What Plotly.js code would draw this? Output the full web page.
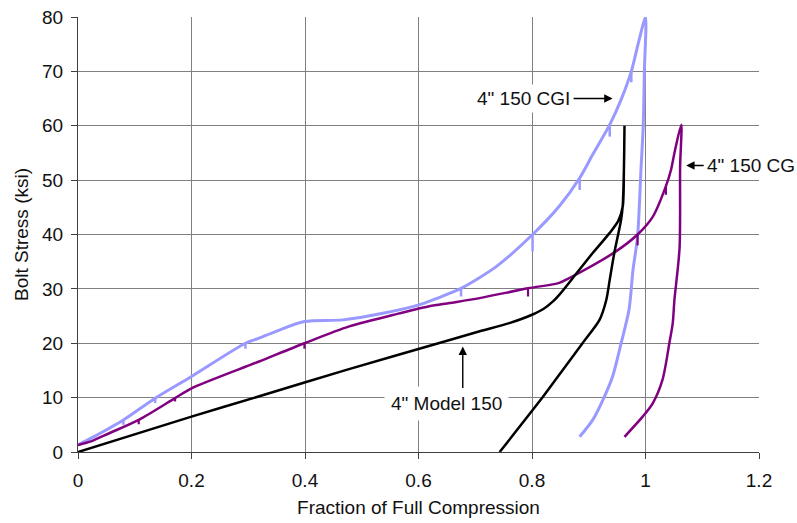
<!DOCTYPE html>
<html>
<head>
<meta charset="utf-8">
<script src="https://cdn.plot.ly/plotly-3.0.1.min.js"></script>
<style>html,body{margin:0;padding:0;background:#fff;}#chart{width:797px;height:523px;}</style>
</head>
<body>
<div id="chart"></div>
<script>
// 4" Model 150 (loading then unloading)
const model150X = [0, 0.2, 0.318, 0.473, 0.655, 0.708, 0.76, 0.799, 0.82, 0.837, 0.848, 0.872, 0.907, 0.937, 0.952, 0.960, 0.962, 0.963,
                   0.962, 0.960, 0.957, 0.945, 0.937, 0.931, 0.919, 0.889, 0.848, 0.819, 0.743];
const model150Y = [0, 6.5, 10.2, 15.1, 20.6, 22.2, 23.7, 25.2, 26.3, 27.7, 28.9, 32, 36.6, 40.3, 42.5, 45.2, 52, 60,
                   52, 45.5, 42.7, 36.6, 31.7, 28, 24.3, 20, 14.2, 10.1, 0];

// 4" 150 CGI (loading then unloading)
const cgiX = [0, 0.024, 0.080, 0.136, 0.2, 0.295, 0.318, 0.349, 0.399, 0.467, 0.537, 0.602, 0.655,
              0.675, 0.737, 0.801, 0.848, 0.884, 0.907, 0.937, 0.957, 0.975, 0.989, 1.0,
              0.998, 0.996, 0.992, 0.986, 0.978, 0.971, 0.957, 0.942, 0.925, 0.907, 0.884];
const cgiY = [1.3, 2.6, 5.9, 9.9, 13.9, 20, 20.9, 22.2, 24, 24.3, 25.5, 27.1, 29.2,
              30.1, 34.1, 40, 45.2, 50.4, 54.7, 60.2, 64.8, 70, 75.9, 79.9,
              70, 60, 51.9, 39.6, 33.5, 26.2, 20, 13.9, 9.6, 5.9, 2.8];
// small downward ticks on the CGI curve
const cgiTickX = [0.080, 0.136, 0.295, 0.675, 0.801, 0.884, 0.937, 0.975];
const cgiTickTop = [5.9, 9.9, 20, 30.1, 40, 50.4, 60.2, 70];
const cgiTickBottom = [5.0, 9.0, 19.0, 28.6, 36.9, 48.2, 58, 68];

// 4" 150 CG (loading then unloading)
const cgX = [0, 0.024, 0.054, 0.107, 0.171, 0.2, 0.318, 0.399, 0.478, 0.5665, 0.619, 0.655,
             0.7075, 0.793, 0.848, 0.866, 0.948, 0.986, 1.013, 1.036, 1.045, 1.051, 1.063,
             1.061, 1.060, 1.051, 1.048, 1.042, 1.030, 1.013, 0.995, 0.963];
const cgY = [1.3, 2.0, 3.4, 5.9, 9.9, 11.7, 16.6, 20, 23.1, 25.5, 26.8, 27.4,
             28.3, 30.1, 31.1, 32, 36.9, 40, 43.3, 48.9, 51.9, 55, 60.2,
             52.5, 37.5, 28, 23.7, 20, 13.3, 9.0, 6.5, 2.8];
// small downward ticks on the CG curve
const cgTickX = [0.107, 0.171, 0.399, 0.793, 0.986, 1.036];
const cgTickTop = [5.9, 9.9, 20, 30.1, 40, 48.9];
const cgTickBottom = [5.1, 9.3, 19.0, 28.6, 38, 47.3];

const seriesNames = ['4" Model 150', '4" 150 CGI', '4" 150 CG'];
const xTicks = [0, 0.2, 0.4, 0.6, 0.8, 1, 1.2];
const xTickText = ['0', '0.2', '0.4', '0.6', '0.8', '1', '1.2'];
const yTicks = [0, 10, 20, 30, 40, 50, 60, 70, 80];

function tickSegments(xs, tops, bottoms) {
  const x = [], y = [];
  xs.forEach((v, i) => { x.push(v, v, null); y.push(tops[i], bottoms[i], null); });
  return {x, y};
}
const cgiTicks = tickSegments(cgiTickX, cgiTickTop, cgiTickBottom);
const cgTicks = tickSegments(cgTickX, cgTickTop, cgTickBottom);

const traces = [
  {x: cgiX, y: cgiY, name: seriesNames[1], mode: 'lines', line: {color: '#9999FF', width: 3, shape: 'spline', smoothing: 0.8}},
  {x: cgiTicks.x, y: cgiTicks.y, mode: 'lines', line: {color: '#9999FF', width: 2.5}, connectgaps: false, hoverinfo: 'skip'},
  {x: cgX, y: cgY, name: seriesNames[2], mode: 'lines', line: {color: '#800080', width: 2.5, shape: 'spline', smoothing: 0.8}},
  {x: cgTicks.x, y: cgTicks.y, mode: 'lines', line: {color: '#800080', width: 2.2}, connectgaps: false, hoverinfo: 'skip'},
  {x: model150X, y: model150Y, name: seriesNames[0], mode: 'lines', line: {color: '#000000', width: 2.5, shape: 'spline', smoothing: 0.7}}
];

const fontFam = 'Liberation Sans, Arial, sans-serif';
const axisCommon = {
  showgrid: true, gridcolor: '#808080', gridwidth: 1,
  showline: true, linecolor: '#404040', linewidth: 1,
  ticks: 'outside', ticklen: 6, tickcolor: '#404040',
  zeroline: false, tickfont: {size: 19, color: '#111'}
};

const layout = {
  width: 797, height: 523,
  margin: {l: 78, r: 38, t: 17, b: 71},
  paper_bgcolor: '#fff', plot_bgcolor: '#fff',
  font: {family: fontFam, color: '#111', size: 19},
  showlegend: false,
  xaxis: Object.assign({}, axisCommon, {
    range: [0, 1.2], tickvals: xTicks, ticktext: xTickText, ticklabelstandoff: 5,
    title: {text: 'Fraction of Full Compression', font: {size: 19}, standoff: 10}
  }),
  yaxis: Object.assign({}, axisCommon, {
    range: [0, 80], tickvals: yTicks, ticklabelstandoff: 4,
    title: {text: 'Bolt Stress (ksi)', font: {size: 19}, standoff: 8}
  }),
  annotations: [
    {x: 0.942, y: 65, xref: 'x', yref: 'y', text: seriesNames[1], showarrow: true, ax: -89, ay: 0,
     arrowhead: 2, arrowsize: 1.2, arrowwidth: 1.4, arrowcolor: '#000', bgcolor: '#fff', borderpad: 3, font: {size: 19}},
    {x: 1.0717, y: 52.7, xref: 'x', yref: 'y', text: seriesNames[2], showarrow: true, ax: 65, ay: 0,
     arrowhead: 2, arrowsize: 1.2, arrowwidth: 1.4, arrowcolor: '#000', bgcolor: '#fff', borderpad: 3, font: {size: 19}},
    {x: 0.650, y: 8.97, xref: 'x', yref: 'y', text: seriesNames[0], showarrow: false,
     bgcolor: '#fff', borderpad: 6, font: {size: 19}},
    {x: 0.678, y: 19.4, xref: 'x', yref: 'y', text: '', showarrow: true, ax: 0, ay: 43,
     arrowhead: 2, arrowsize: 1.2, arrowwidth: 1.4, arrowcolor: '#000'}
  ]
};

Plotly.newPlot('chart', traces, layout, {displayModeBar: false, staticPlot: true});
</script>
</body>
</html>
